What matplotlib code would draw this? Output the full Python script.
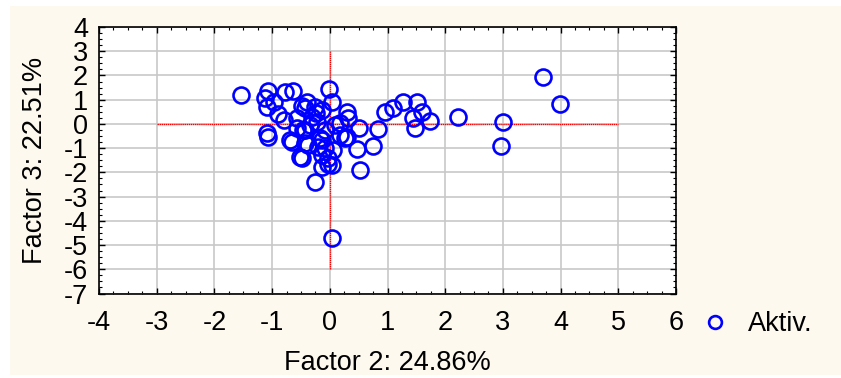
import matplotlib.pyplot as plt
from matplotlib.patches import Rectangle
from matplotlib.ticker import MultipleLocator

# Factor scores (Factor 2, Factor 3)
factor2 = [-1.54, -1.07, -0.78, -0.64, -0.02, -1.13, -0.97, -1.09, -0.90, -0.49,
           -0.40, -0.26, -0.43, -0.57, -0.14, 0.03, 0.29, 0.31, -0.31, -0.23,
           -1.09, -1.07, -0.69, -0.66, -0.57, -0.47, -0.43, -0.17, -0.14, 0.17,
           0.29, 0.26, -0.49, -0.52, -0.14, 0.03, -0.26, 0.05, -0.09, -0.21,
           -0.38, -0.43, -0.14, -0.03, -0.03, 0.50, 0.83, 0.47, 0.75, 0.52,
           0.03, 0.95, 1.09, 1.27, 1.51, 1.59, 1.44, 1.47, 1.73, 2.22,
           3.00, 2.96, 3.69, 3.99, 0.09, 0.17, -0.35, -0.80, -0.09, -0.24]
factor3 = [1.20, 1.36, 1.32, 1.36, 1.45, 1.07, 0.91, 0.70, 0.41, 0.74,
           0.91, 0.70, 0.66, 0.25, 0.58, 0.91, 0.50, 0.25, 0.29, 0.08,
           -0.37, -0.54, -0.66, -0.74, -0.17, -0.25, -0.25, -0.58, -0.66, -0.45,
           -0.54, -0.58, -1.40, -1.36, -1.78, -1.69, -2.40, -1.07, -0.99, -0.95,
           -0.87, -0.79, -1.28, -1.40, -1.65, -0.17, -0.21, -1.03, -0.91, -1.90,
           -4.71, 0.50, 0.66, 0.91, 0.91, 0.50, 0.25, -0.17, 0.12, 0.29,
           0.08, -0.91, 1.94, 0.83, -0.04, 0.04, -0.04, 0.17, -0.25, 0.45]

x_ticks = [-4, -3, -2, -1, 0, 1, 2, 3, 4, 5, 6]
y_ticks = [4, 3, 2, 1, 0, -1, -2, -3, -4, -5, -6, -7]

plt.rcParams['font.family'] = ['Liberation Sans', 'DejaVu Sans']
plt.rcParams['axes.unicode_minus'] = False

fig = plt.figure(figsize=(8.41, 3.78), dpi=100)
fig.patches.append(Rectangle((10 / 841, 3 / 378), 1 - 10 / 841, 1 - 9 / 378,
                             transform=fig.transFigure, facecolor='#fdf9ef',
                             edgecolor='none', zorder=-1))

ax = fig.add_axes([99 / 841, 1 - 293.5 / 378, 577 / 841, 266.5 / 378])
ax.set_facecolor('white')
ax.set_xlim(-4, 6)
ax.set_ylim(-7, 4)
ax.set_xticks(x_ticks)
ax.set_yticks(y_ticks)
ax.xaxis.set_minor_locator(MultipleLocator(0.25))
ax.yaxis.set_minor_locator(MultipleLocator(0.25))
ax.grid(True, which='major', color='#c8c8c8', linewidth=1.2)
ax.set_axisbelow(True)
ax.tick_params(which='both', direction='in', top=True, right=True,
               labelsize=19.5, color='black')
ax.tick_params(which='major', length=4, width=1)
ax.tick_params(which='minor', length=2.5, width=0.8)
ax.tick_params(axis='x', pad=12)
ax.tick_params(axis='y', pad=8)
for s in ax.spines.values():
    s.set_linewidth(1.2)

# red cross through the origin
ax.plot([-3, 5], [0, 0], color='red', linewidth=1, linestyle=(0, (1, 0.5)), zorder=2)
ax.plot([0, 0], [-6, 3], color='red', linewidth=1, linestyle=(0, (1, 0.5)), zorder=2)

ax.plot(factor2, factor3, linestyle='none', marker='o', markersize=11.5,
        markerfacecolor='none', markeredgecolor='#0000ff', markeredgewidth=1.9,
        label='Aktiv.', zorder=3)

ax.set_xlabel('Factor 2: 24.86%', fontsize=19.5, labelpad=10)
ax.set_ylabel('Factor 3: 22.51%', fontsize=19.5, labelpad=11)

fig.legend(loc='center left', bbox_to_anchor=(688 / 841, 1 - 324 / 378),
           frameon=False, fontsize=19.5, markerscale=0.8, handlelength=1.2,
           handletextpad=0.6, borderaxespad=0)

fig.savefig('out.png', dpi=100)
